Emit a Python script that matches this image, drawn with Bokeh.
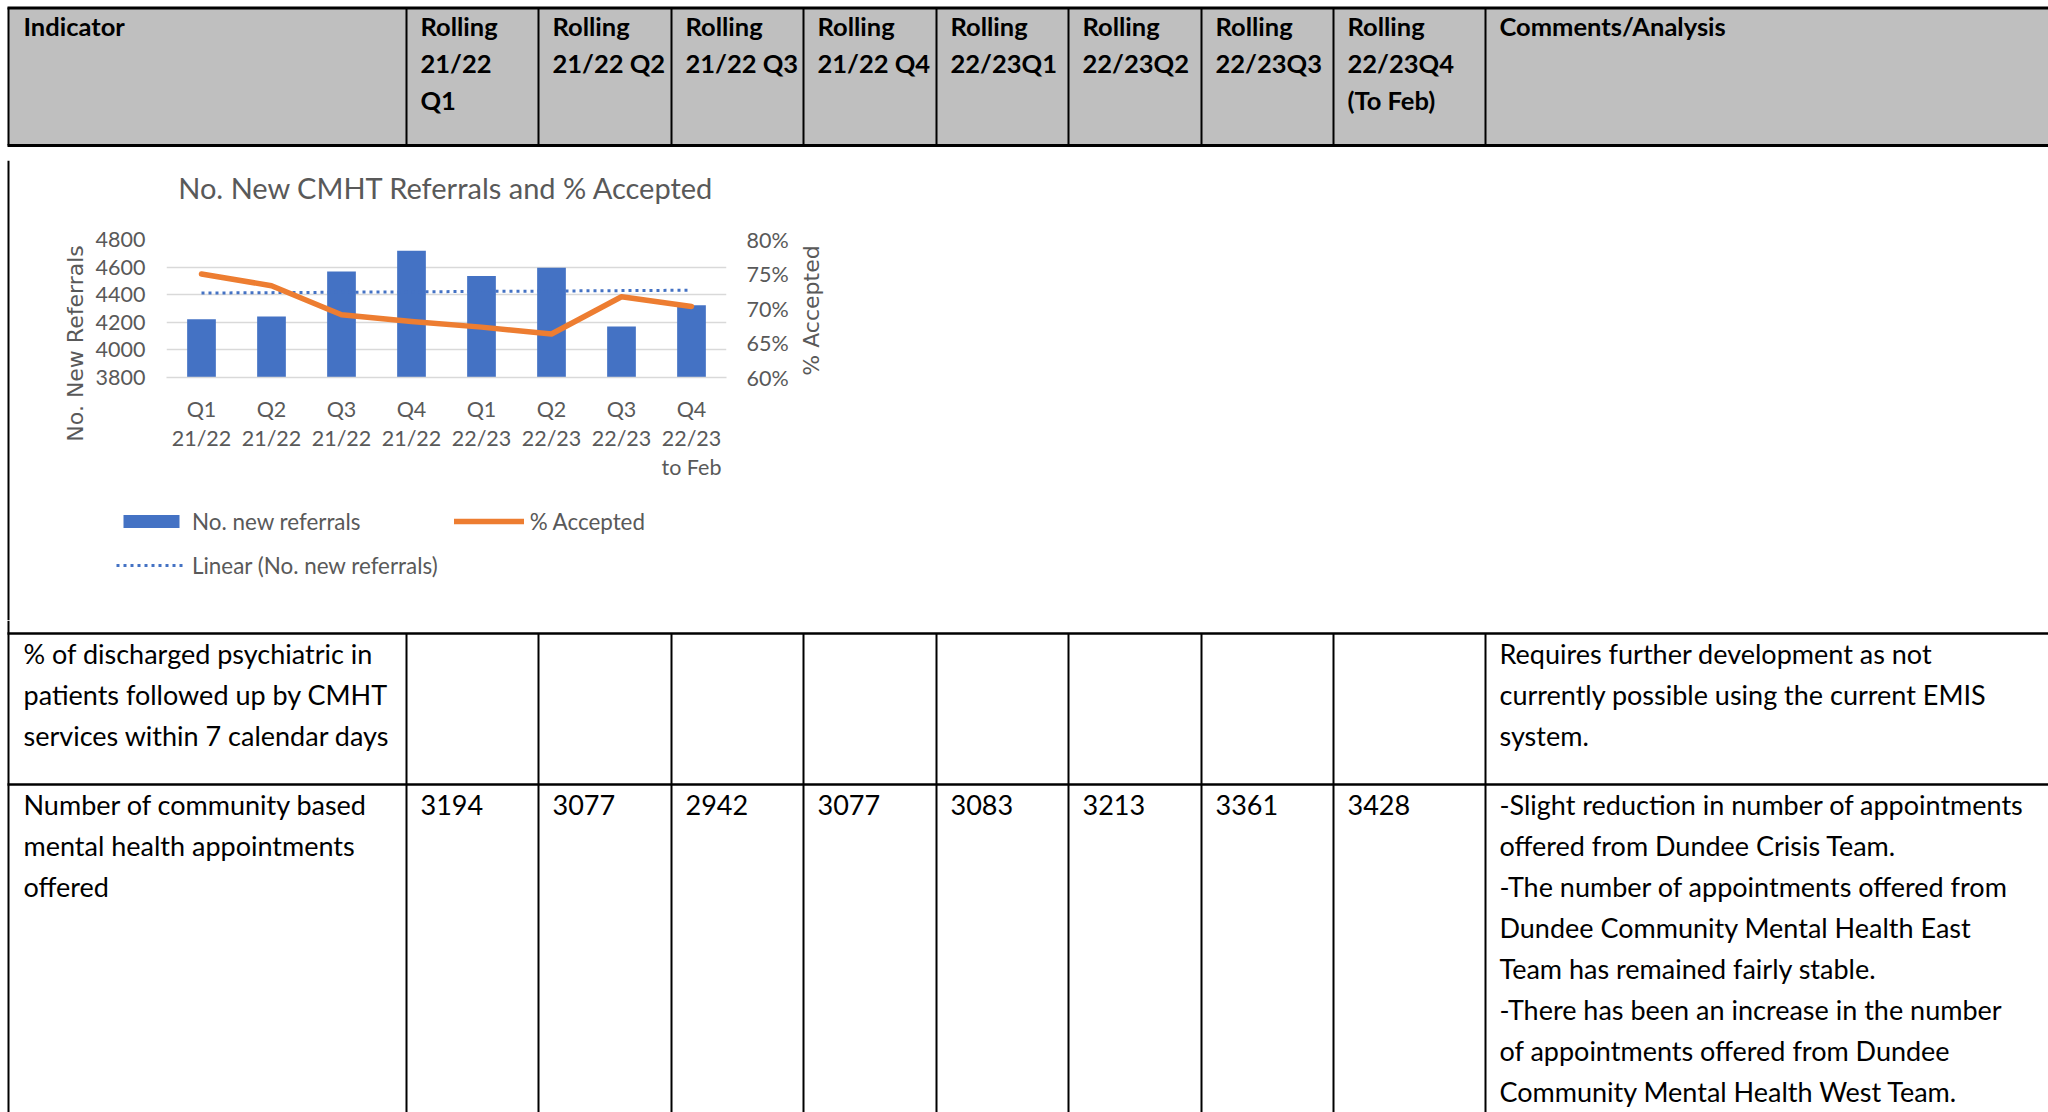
import numpy as np
from bokeh.plotting import figure
from bokeh.layouts import column, row
from bokeh.models import (Range1d, FactorRange, LinearAxis, Legend, LegendItem,
                          NumeralTickFormatter, FixedTicker, Spacer)
from bokeh.core.properties import value
from bokeh.embed import file_html
from bokeh.resources import INLINE

# ---------------- chart data ----------------
quarters = ["Q1\n21/22", "Q2\n21/22", "Q3\n21/22", "Q4\n21/22",
            "Q1\n22/23", "Q2\n22/23", "Q3\n22/23", "Q4\n22/23\nto Feb"]
new_referrals = [4223, 4242, 4569, 4718, 4536, 4596, 4170, 4324]
pct_accepted = [0.750, 0.733, 0.691, 0.681, 0.673, 0.663, 0.717, 0.703]
ref_ticks = [3800, 4000, 4200, 4400, 4600, 4800]
pct_ticks = [0.60, 0.65, 0.70, 0.75, 0.80]
chart_title = "No. New CMHT Referrals and % Accepted"
left_title = "No. New Referrals"
right_title = "% Accepted"
legend_labels = ["No. new referrals", "% Accepted", "Linear (No. new referrals)"]

# ---------------- table data ----------------
header_indicator = "Indicator"
header_periods = [["Rolling", "21/22", "Q1"], ["Rolling", "21/22 Q2"], ["Rolling", "21/22 Q3"],
                  ["Rolling", "21/22 Q4"], ["Rolling", "22/23Q1"], ["Rolling", "22/23Q2"],
                  ["Rolling", "22/23Q3"], ["Rolling", "22/23Q4", "(To Feb)"]]
header_comments = "Comments/Analysis"
row2_indicator = ["% of discharged psychiatric in", "patients followed up by CMHT",
                  "services within 7 calendar days"]
row2_comments = ["Requires further development as not",
                 "currently possible using the current EMIS", "system."]
row3_indicator = ["Number of community based", "mental health appointments", "offered"]
row3_values = ["3194", "3077", "2942", "3077", "3083", "3213", "3361", "3428"]
row3_comments = ["-Slight reduction in number of appointments",
                 "offered from Dundee Crisis Team.",
                 "-The number of appointments offered from",
                 "Dundee Community Mental Health East",
                 "Team has remained fairly stable.",
                 "-There has been an increase in the number",
                 "of appointments offered from Dundee",
                 "Community Mental Health West Team."]

# ---------------- styling / geometry ----------------
FONT = "Lato"
AXFONT = "DejaVu Sans"
GREY = "#595959"
BLUE = "#4472C4"
ORANGE = "#ED7D31"
X0, X1 = 0, 2048
col_x = [8, 406, 538, 671, 803, 936, 1068, 1201, 1333, 1485]
PAD = 14
BODY = "27px"
HEAD = "25.5px"
TICK = "21.5px"


def band(y0, y1, x0=X0, x1=X1):
    p = figure(width=x1 - x0, height=y1 - y0, x_range=Range1d(x0, x1), y_range=Range1d(y1, y0),
               toolbar_location=None, output_backend="svg", x_axis_location=None,
               y_axis_location=None, min_border=0, outline_line_color=None,
               background_fill_color="white", border_fill_color="white")
    p.grid.visible = False
    return p


def txt(p, xs, ys, texts, size, bold=False, color="black"):
    p.text(x=xs, y=ys, text=texts, text_font=value(FONT), text_font_size=size,
           text_font_style="bold" if bold else "normal", text_color=color,
           text_baseline="alphabetic", text_align="left")


# ---------- header band ----------
top = band(0, 160)
top.quad(left=[8], right=[X1], top=[7], bottom=[145], fill_color="#BFBFBF", line_color=None)
top.segment(x0=[7], y0=[7.5], x1=[X1], y1=[7.5], line_color="black", line_width=3)
top.segment(x0=[7], y0=[145], x1=[X1], y1=[145], line_color="black", line_width=3)
top.segment(x0=col_x, y0=[7] * len(col_x), x1=col_x, y1=[145] * len(col_x),
            line_color="black", line_width=2)
hl = [25, 62, 99]
hx, hy, ht = [col_x[0] + 15], [hl[0]], [header_indicator]
for i, lines in enumerate(header_periods):
    for j, s in enumerate(lines):
        hx.append(col_x[i + 1] + PAD); hy.append(hl[j]); ht.append(s)
hx.append(col_x[-1] + PAD); hy.append(hl[0]); ht.append(header_comments)
txt(top, hx, hy, ht, HEAD, bold=True)

# ---------- chart ----------
CH_L, CH_R = 24, 795
CH_TOP, CH_BOT, MID_BOT = 160, 507, 620
c = figure(width=CH_R - CH_L, height=CH_BOT - CH_TOP, x_range=FactorRange(factors=quarters),
           y_range=Range1d(3800, 4800), toolbar_location=None, output_backend="svg",
           min_border_left=166 - CH_L, min_border_right=CH_R - 726, min_border_top=239 - CH_TOP,
           min_border_bottom=CH_BOT - 377, outline_line_color=None, title=chart_title + "\n",
           background_fill_color="white", border_fill_color="white")
c.extra_y_ranges = {"pct": Range1d(0.6, 0.8)}

bars = c.vbar(x=quarters, top=new_referrals, bottom=3800, width=0.41,
              fill_color=BLUE, line_color=None)
xi = np.arange(1, len(new_referrals) + 1)
slope, intercept = np.polyfit(xi, np.array(new_referrals, dtype=float), 1)
trend = list(slope * xi + intercept)
tr = c.line(x=quarters, y=trend, line_color=BLUE, line_width=3, line_dash="3 4")
ln = c.line(x=quarters, y=pct_accepted, y_range_name="pct", line_color=ORANGE,
            line_width=5.5, line_cap="round", line_join="round")

c.title.align = "center"
c.title.text_font = FONT
c.title.text_font_size = "29px"
c.title.text_font_style = "normal"
c.title.text_color = GREY
c.title.standoff = 0

la = c.left[0]
la.ticker = FixedTicker(ticks=ref_ticks)
la.axis_label = left_title + "\u00a0" * 10
ra = LinearAxis(y_range_name="pct", ticker=FixedTicker(ticks=pct_ticks),
                formatter=NumeralTickFormatter(format="0%"))
c.add_layout(ra, "right")
for ax, so in [(la, 21), (ra, 20)]:
    ax.axis_line_color = None
    ax.major_tick_line_color = None
    ax.minor_tick_line_color = None
    ax.major_tick_out = 0
    ax.major_label_standoff = so
    ax.major_label_text_font = FONT
    ax.major_label_text_font_size = TICK
    ax.major_label_text_color = GREY
la.axis_label_standoff = 5
la.axis_label_text_font = AXFONT
la.axis_label_text_font_size = "22px"
la.axis_label_text_font_style = "normal"
la.axis_label_text_color = GREY

xa = c.below[0]
xa.axis_line_color = "#D9D9D9"
xa.axis_line_width = 1.5
xa.major_tick_line_color = None
xa.major_tick_out = 0
xa.major_label_standoff = 18
xa.major_label_text_font = FONT
xa.major_label_text_font_size = TICK
xa.major_label_text_color = GREY
xa.major_label_text_line_height = 1.12

c.ygrid.grid_line_color = "#D9D9D9"
c.ygrid.grid_line_width = 1.5
c.xgrid.visible = False

# ---------- legend (keys styled like the chart's series) ----------
LEG_X = 116
lf = figure(width=CH_R - LEG_X, height=MID_BOT - CH_BOT, x_range=Range1d(0, 1),
            y_range=Range1d(0, 1), toolbar_location=None, output_backend="svg",
            x_axis_location=None, y_axis_location=None, min_border=0, outline_line_color=None,
            background_fill_color="white", border_fill_color="white")
lf.grid.visible = False
k_bar = lf.vbar(x=[np.nan], top=[np.nan], bottom=[np.nan], width=0.4, fill_color=BLUE,
                line_color=None)
k_ln = lf.line(x=[np.nan], y=[np.nan], line_color=ORANGE, line_width=5.5, line_cap="round")
k_tr = lf.line(x=[np.nan], y=[np.nan], line_color=BLUE, line_width=3, line_dash="3 4")
leg = Legend(items=[LegendItem(label=legend_labels[0], renderers=[k_bar]),
                    LegendItem(label=legend_labels[2], renderers=[k_tr]),
                    LegendItem(label=legend_labels[1], renderers=[k_ln])],
             location="top_left", ncols=2, border_line_color=None, background_fill_alpha=0,
             padding=0, margin=0, spacing=16, glyph_width=70, glyph_height=16,
             label_height=28, label_standoff=6, label_text_font=FONT,
             label_text_font_size="22.4px", label_text_color=GREY)
lf.add_layout(leg)

# right-hand strip: secondary axis title + blank remainder of the merged cell
rband = band(CH_TOP, MID_BOT, CH_R, X1)
rband.text(x=[811], y=[310], text=[right_title], angle=np.pi / 2, text_font=value(AXFONT),
           text_font_size="22px", text_color=GREY, text_align="center", text_baseline="middle")

strip = band(CH_TOP, MID_BOT, 0, CH_L)
strip.segment(x0=[8], y0=[CH_TOP], x1=[8], y1=[MID_BOT], line_color="black", line_width=2)
chart_col = column(c, row(Spacer(width=LEG_X - CH_L, height=MID_BOT - CH_BOT), lf))
mid = row(strip, chart_col, rband)

# ---------- lower rows ----------
bot = band(MID_BOT, 1112)
bot.segment(x0=[8], y0=[MID_BOT], x1=[8], y1=[1112], line_color="black", line_width=2)
bot.segment(x0=[7, 7], y0=[633, 784], x1=[X1, X1], y1=[633, 784], line_color="black",
            line_width=2.5)
bot.segment(x0=col_x[1:], y0=[633] * 9, x1=col_x[1:], y1=[1112] * 9, line_color="black",
            line_width=2)
r2 = [653, 694, 735]
txt(bot, [col_x[0] + 15] * 3, r2, row2_indicator, BODY)
txt(bot, [col_x[-1] + PAD] * 3, r2, row2_comments, BODY)
r3 = [804 + 41 * k for k in range(8)]
txt(bot, [col_x[0] + 15] * 3, r3[:3], row3_indicator, BODY)
txt(bot, [x + PAD for x in col_x[1:9]], [r3[0]] * 8, row3_values, BODY)
txt(bot, [col_x[-1] + PAD] * 8, r3, row3_comments, BODY)

page = column(top, mid, bot)
open("out.html", "w").write(file_html(page, INLINE, title="CMHT indicators"))
